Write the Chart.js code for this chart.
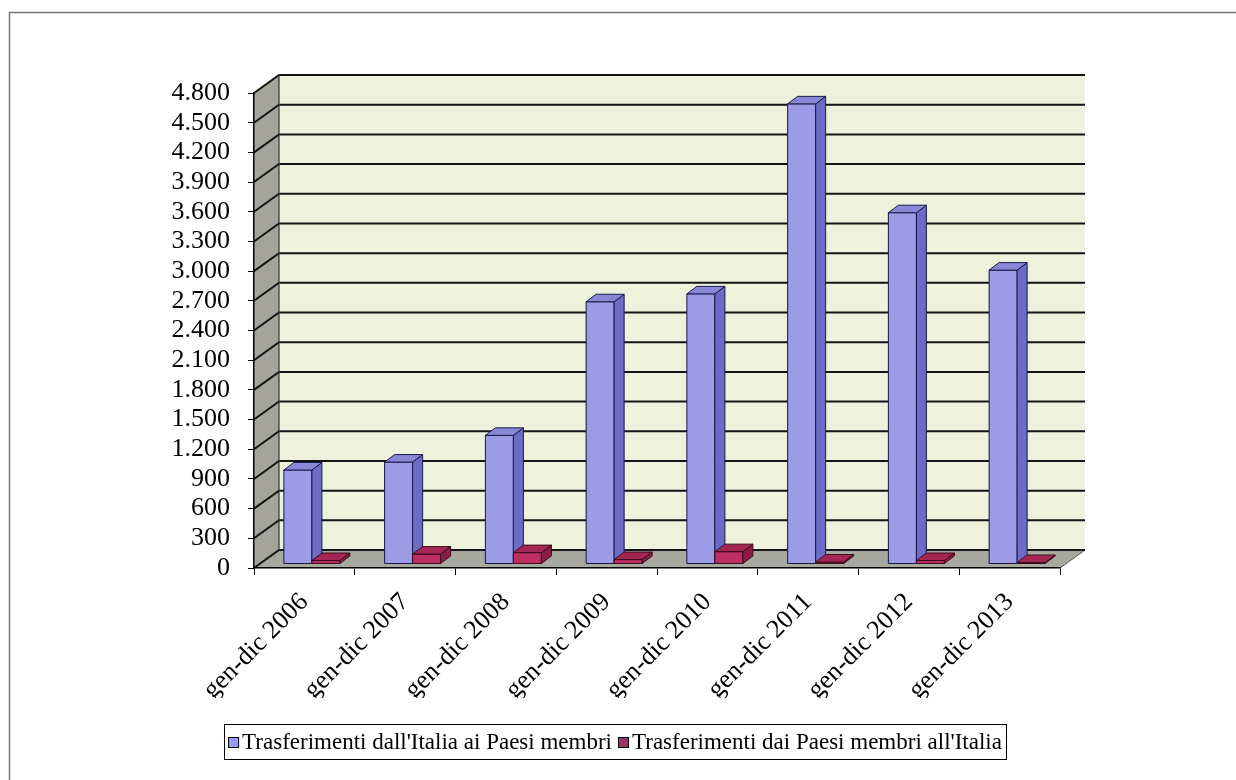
<!DOCTYPE html>
<html><head><meta charset="utf-8">
<script src="https://cdn.jsdelivr.net/npm/chart.js@4.4.1/dist/chart.umd.min.js"></script>
<style>html,body{margin:0;padding:0;background:#fff;overflow:hidden}#wrap{width:1236px;height:780px;position:relative}</style>
</head><body><div id="wrap"><canvas id="c" width="1236" height="780"></canvas></div>
<script>
const categories = ['gen-dic 2006','gen-dic 2007','gen-dic 2008','gen-dic 2009','gen-dic 2010','gen-dic 2011','gen-dic 2012','gen-dic 2013'];
const seriesNames = ["Trasferimenti dall'Italia ai Paesi membri", "Trasferimenti dai Paesi membri all'Italia"];
const fromItaly = [950, 1030, 1300, 2650, 2730, 4650, 3550, 2970];
const toItaly = [35, 100, 115, 45, 125, 20, 35, 15];
const yMin = 0, yMax = 4800, yStep = 300;

const FONT = "'Liberation Serif', 'Times New Roman', serif";
const WALL = {dx: 25, dy: -18};
const SHIFT = {dx: 7.5, dy: -4};
const BDEP = {dx: 10, dy: -7.5};
const LEGEND_TOP = 724;
const faces = [
  {front: '#9c9ce6', side: '#6c6cc6', top: '#8888d8', stroke: '#1a1a48', legend: '#9999ff'},
  {front: '#bd2e62', side: '#8a1e46', top: '#a52653', stroke: '#3a0c1c', legend: '#993366'}
];
const fmt = v => String(v).replace(/\B(?=(\d{3})+(?!\d))/g, '.');

function poly(ctx, pts, fill, stroke, lw) {
  ctx.beginPath();
  ctx.moveTo(pts[0][0], pts[0][1]);
  for (let i = 1; i < pts.length; i++) ctx.lineTo(pts[i][0], pts[i][1]);
  ctx.closePath();
  if (fill) { ctx.fillStyle = fill; ctx.fill(); }
  if (stroke) { ctx.strokeStyle = stroke; ctx.lineWidth = lw || 1; ctx.stroke(); }
}

const scene = {
  id: 'scene3d',
  beforeDraw(chart) {
    const ctx = chart.ctx;
    const {left, right, top, bottom} = chart.chartArea;
    const y = chart.scales.y;
    ctx.save();
    ctx.strokeStyle = '#7a7a7a'; ctx.lineWidth = 1.5;
    ctx.beginPath(); ctx.moveTo(9.5, 780); ctx.lineTo(9.5, 12.5); ctx.lineTo(1236, 12.5); ctx.stroke();
    ctx.fillStyle = '#eef1dc';
    ctx.fillRect(left + WALL.dx, top + WALL.dy, right - left, bottom - top);
    poly(ctx, [[left, top], [left + WALL.dx, top + WALL.dy], [left + WALL.dx, bottom + WALL.dy], [left, bottom]], '#a4a598');
    poly(ctx, [[left, bottom], [right, bottom], [right + WALL.dx, bottom + WALL.dy], [left + WALL.dx, bottom + WALL.dy]], '#a7a89e');
    ctx.strokeStyle = '#555'; ctx.lineWidth = 1;
    ctx.beginPath(); ctx.moveTo(right, bottom); ctx.lineTo(right + WALL.dx, bottom + WALL.dy); ctx.stroke();
    ctx.strokeStyle = '#141414'; ctx.lineWidth = 2;
    for (let v = yMin; v <= yMax; v += yStep) {
      const py = y.getPixelForValue(v);
      ctx.beginPath();
      ctx.moveTo(left, py);
      ctx.lineTo(left + WALL.dx, py + WALL.dy);
      ctx.lineTo(right + WALL.dx, py + WALL.dy);
      ctx.stroke();
    }
    ctx.lineWidth = 1.2; ctx.strokeStyle = '#333';
    ctx.beginPath(); ctx.moveTo(left + WALL.dx, top + WALL.dy); ctx.lineTo(left + WALL.dx, bottom + WALL.dy); ctx.stroke();
    ctx.restore();
  },
  beforeDatasetDraw(chart) { chart.ctx.save(); chart.ctx.translate(SHIFT.dx, SHIFT.dy); },
  afterDatasetDraw(chart) { chart.ctx.restore(); },
  afterDatasetsDraw(chart) {
    const ctx = chart.ctx;
    ctx.save();
    const metas = [chart.getDatasetMeta(0), chart.getDatasetMeta(1)];
    for (let i = 0; i < categories.length; i++) {
      metas.forEach((meta, d) => {
        const el = meta.data[i];
        const p = el.getProps(['x', 'y', 'base', 'width'], true);
        const x0 = p.x - p.width / 2 + SHIFT.dx, x1 = p.x + p.width / 2 + SHIFT.dx;
        const yt = p.y + SHIFT.dy, yb = p.base + SHIFT.dy;
        const f = faces[d];
        poly(ctx, [[x0, yt], [x1, yt], [x1, yb], [x0, yb]], f.front, f.stroke, 1);
        poly(ctx, [[x1, yt], [x1 + BDEP.dx, yt + BDEP.dy], [x1 + BDEP.dx, yb + BDEP.dy], [x1, yb]], f.side, f.stroke, 1);
        poly(ctx, [[x0, yt], [x0 + BDEP.dx, yt + BDEP.dy], [x1 + BDEP.dx, yt + BDEP.dy], [x1, yt]], f.top, f.stroke, 1);
      });
    }
    ctx.restore();
  },
  afterDraw(chart) {
    const ctx = chart.ctx;
    ctx.save();
    ctx.font = '23px ' + FONT;
    ctx.textBaseline = 'middle';
    const box = 11, gap = 3, sep = 6, pad = 4;
    const widths = seriesNames.map(s => ctx.measureText(s).width);
    const total = widths.reduce((a, w) => a + box + gap + w, 0) + sep;
    const cx = 615;
    const bx = cx - total / 2 - pad, by = LEGEND_TOP, bh = 35;
    ctx.strokeStyle = '#000'; ctx.lineWidth = 1;
    ctx.strokeRect(Math.round(bx) + 0.5, by + 0.5, Math.round(total + 2 * pad), bh);
    let x = cx - total / 2;
    const my = by + bh / 2 + 1;
    seriesNames.forEach((s, d) => {
      ctx.fillStyle = faces[d].legend;
      ctx.fillRect(x, my - box / 2, box, box);
      ctx.strokeStyle = '#000';
      ctx.strokeRect(x + 0.5, my - box / 2 + 0.5, box - 1, box - 1);
      ctx.fillStyle = '#000';
      ctx.fillText(s, x + box + gap, my);
      x += box + gap + widths[d] + sep;
    });
    ctx.restore();
  }
};

new Chart(document.getElementById('c'), {
  type: 'bar',
  data: {
    labels: categories,
    datasets: [
      {label: seriesNames[0], data: fromItaly, backgroundColor: faces[0].front, borderColor: faces[0].stroke, borderWidth: 1},
      {label: seriesNames[1], data: toItaly, backgroundColor: faces[1].front, borderColor: faces[1].stroke, borderWidth: 1}
    ]
  },
  options: {
    responsive: false,
    animation: false,
    devicePixelRatio: 1,
    datasets: {bar: {categoryPercentage: 0.556, barPercentage: 1}},
    layout: {padding: {left: 0, right: 176, top: 93, bottom: 82}},
    plugins: {legend: {display: false}, tooltip: {enabled: false}},
    scales: {
      x: {
        grid: {drawOnChartArea: false, tickLength: 7, color: '#000', offset: true},
        border: {display: true, color: '#000', width: 1.5},
        ticks: {color: '#000', font: {family: FONT, size: 26}, maxRotation: 45, minRotation: 45, padding: 12, autoSkip: false},
        afterFit(s) { s.height = 130; }
      },
      y: {
        min: yMin, max: yMax,
        grid: {drawOnChartArea: false, tickLength: 6, color: '#000'},
        border: {display: true, color: '#000', width: 1.5},
        ticks: {stepSize: yStep, autoSkip: false, color: '#000', font: {family: FONT, size: 26}, padding: 18, callback: v => fmt(v)},
        afterFit(s) { s.width = 254; }
      }
    }
  },
  plugins: [scene]
});
</script></body></html>
